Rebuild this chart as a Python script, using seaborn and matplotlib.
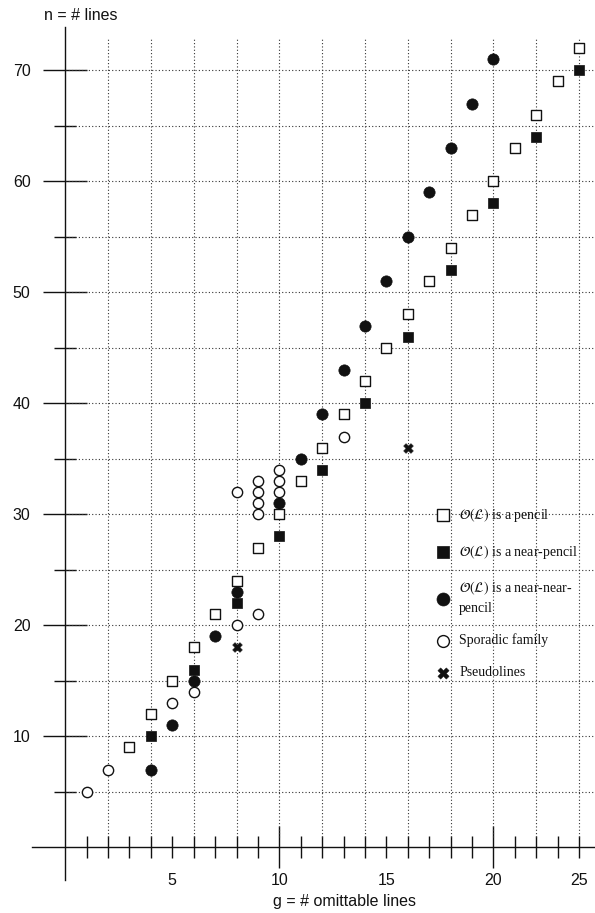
import matplotlib
matplotlib.use("Agg")
import matplotlib.pyplot as plt
import matplotlib.ticker as mticker
import numpy as np
import pandas as pd
import seaborn as sns

# ── Data ───────────────────────────────────────────────────────────────────
pencil_g = [3, 4, 5, 6, 7, 8, 9, 10, 11, 12, 13, 14, 15, 16, 17, 18, 19, 20, 21, 22, 23, 24]
pencil_n = [9, 12, 15, 18, 21, 24, 27, 30, 33, 36, 39, 42, 45, 48, 51, 54, 57, 60, 63, 66, 69, 72]

near_g = [4, 6, 8, 10, 12, 14, 16, 18, 20, 22, 24]
near_n = [10, 16, 22, 28, 34, 40, 46, 52, 58, 64, 70]

nearnear_g = [4, 5, 6, 7, 8, 10, 11, 12, 13, 14, 15, 16, 17, 18, 19, 20]
nearnear_n = [7, 11, 15, 19, 23, 31, 35, 39, 43, 47, 51, 55, 59, 63, 67, 71]

sporadic_g = [1, 2, 5, 6, 8, 9, 8, 9, 9, 9, 9, 10, 10, 10, 13]
sporadic_n = [5, 7, 13, 14, 20, 21, 32, 30, 31, 32, 33, 32, 33, 34, 37]

pseudo_g = [8, 16]
pseudo_n = [18, 36]

x_major = [10, 20]
x_minor = [1, 2, 3, 4, 5, 6, 7, 8, 9, 11, 12, 13, 14, 15, 16, 17, 18, 19, 21, 22, 23, 24]
x_minor_labels = {5: "5", 15: "15", 24: "25"}
y_major = [10, 20, 30, 40, 50, 60, 70]
y_minor = [5, 15, 25, 35, 45, 55, 65]
x_grid = [2, 4, 6, 8, 10, 12, 14, 16, 18, 20, 22, 24]
y_grid = [5, 10, 15, 20, 25, 30, 35, 40, 45, 50, 55, 60, 65, 70]

labels = [
    r"$\mathcal{O}(\mathcal{L})$ is a pencil",
    r"$\mathcal{O}(\mathcal{L})$ is a near-pencil",
    r"$\mathcal{O}(\mathcal{L})$ is a near-near-" + "\npencil",
    "Sporadic family",
    "Pseudolines",
]

# ── Style ──────────────────────────────────────────────────────────────────
sns.set_style("white")
plt.rcParams["font.family"] = ["Liberation Sans", "DejaVu Sans"]
plt.rcParams["mathtext.fontset"] = "stix"

INK = "#111111"

fig = plt.figure(figsize=(5.95, 9.13), dpi=100)
ax = fig.add_axes([0, 0, 1, 1])
ax.set_xlim(-3.05, 24.75)
ax.set_ylim(-5.92, 76.33)
ax.patch.set_alpha(0)

# dotted grid, stopping at the axes like the original
ax.vlines(x_grid, 0.95, 73.0, colors="#333333", linestyles=(0, (1, 2)), linewidth=0.8, zorder=1)
ax.hlines(y_grid, 0, 24.75, colors="#333333", linestyles=(0, (1, 2)), linewidth=0.8, zorder=1)

# ── Points ─────────────────────────────────────────────────────────────────
sns.scatterplot(x=sporadic_g, y=sporadic_n, marker="o", s=55, color=INK, facecolor="white",
                edgecolor=INK, linewidth=1.0, ax=ax, zorder=3, label=labels[3])
sns.scatterplot(x=pencil_g, y=pencil_n, marker="s", s=52, color=INK, facecolor="white",
                edgecolor=INK, linewidth=1.0, ax=ax, zorder=3, label=labels[0])
sns.scatterplot(x=near_g, y=near_n, marker="s", s=60, color=INK, edgecolor=INK,
                linewidth=0.5, ax=ax, zorder=4, label=labels[1])
sns.scatterplot(x=nearnear_g, y=nearnear_n, marker="o", s=66, color=INK, edgecolor=INK,
                linewidth=0.5, ax=ax, zorder=4, label=labels[2])
sns.scatterplot(x=pseudo_g, y=pseudo_n, marker="X", s=50, color=INK, edgecolor=INK,
                linewidth=0.3, ax=ax, zorder=4, label=labels[4])

# ── Axes drawn through the origin ──────────────────────────────────────────
for side in ["top", "right"]:
    ax.spines[side].set_visible(False)
ax.spines["left"].set_position(("data", 0))
ax.spines["bottom"].set_position(("data", 0))
ax.spines["left"].set_bounds(-2.95, 73.93)
ax.spines["bottom"].set_bounds(-1.54, 24.75)
for side in ["left", "bottom"]:
    ax.spines[side].set_color(INK)
    ax.spines[side].set_linewidth(1.0)
    ax.spines[side].set_zorder(2)

ax.xaxis.set_major_locator(mticker.FixedLocator(x_major))
ax.xaxis.set_minor_locator(mticker.FixedLocator(x_minor))
ax.xaxis.set_major_formatter(mticker.FixedFormatter([str(v) for v in x_major]))
ax.xaxis.set_minor_formatter(mticker.FixedFormatter([x_minor_labels.get(v, "") for v in x_minor]))
ax.yaxis.set_major_locator(mticker.FixedLocator(y_major))
ax.yaxis.set_minor_locator(mticker.FixedLocator(y_minor))
ax.yaxis.set_major_formatter(mticker.FixedFormatter([str(v) for v in y_major]))
ax.yaxis.set_minor_formatter(mticker.NullFormatter())

# seaborn's white style switches tick marks off, so turn them back on
ax.tick_params(axis="x", which="both", bottom=True, top=False, labelbottom=True)
ax.tick_params(axis="y", which="both", left=True, right=False, labelleft=True)
ax.tick_params(axis="x", which="major", direction="inout", length=30.2, width=1.0,
               color=INK, pad=3.6, labelsize=11.5, labelcolor=INK)
ax.tick_params(axis="x", which="minor", direction="inout", length=15.8, width=1.0,
               color=INK, pad=10.8, labelsize=11.5, labelcolor=INK)
ax.tick_params(axis="y", which="major", direction="inout", length=31.2, width=1.0,
               color=INK, pad=9.4, labelsize=11.5, labelcolor=INK)
ax.tick_params(axis="y", which="minor", direction="inout", length=15.8, width=1.0, color=INK)

fig.text(44.3 / 595, 1 - 16 / 913, "n = # lines", ha="left", va="center", fontsize=11.5, color=INK)
fig.text(344 / 595, 1 - 901 / 913, "g = # omittable lines", ha="center", va="center",
         fontsize=11.5, color=INK)

# ── Legend ─────────────────────────────────────────────────────────────────
handles, labs = ax.get_legend_handles_labels()
order = [labs.index(l) for l in labels]
leg = ax.legend([handles[i] for i in order], [labs[i] for i in order],
                loc="upper left", bbox_to_anchor=(435.7 / 595, 1 - 506 / 913),
                bbox_transform=fig.transFigure, frameon=False, borderpad=0,
                borderaxespad=0, handlelength=1.0, handletextpad=0.7,
                labelspacing=1.35, markerscale=1.15,
                prop={"family": "Liberation Serif", "size": 10})
for t in leg.get_texts():
    t.set_linespacing(1.5)
    t.set_color(INK)

plt.savefig("out.png", dpi=100)
plt.close()
